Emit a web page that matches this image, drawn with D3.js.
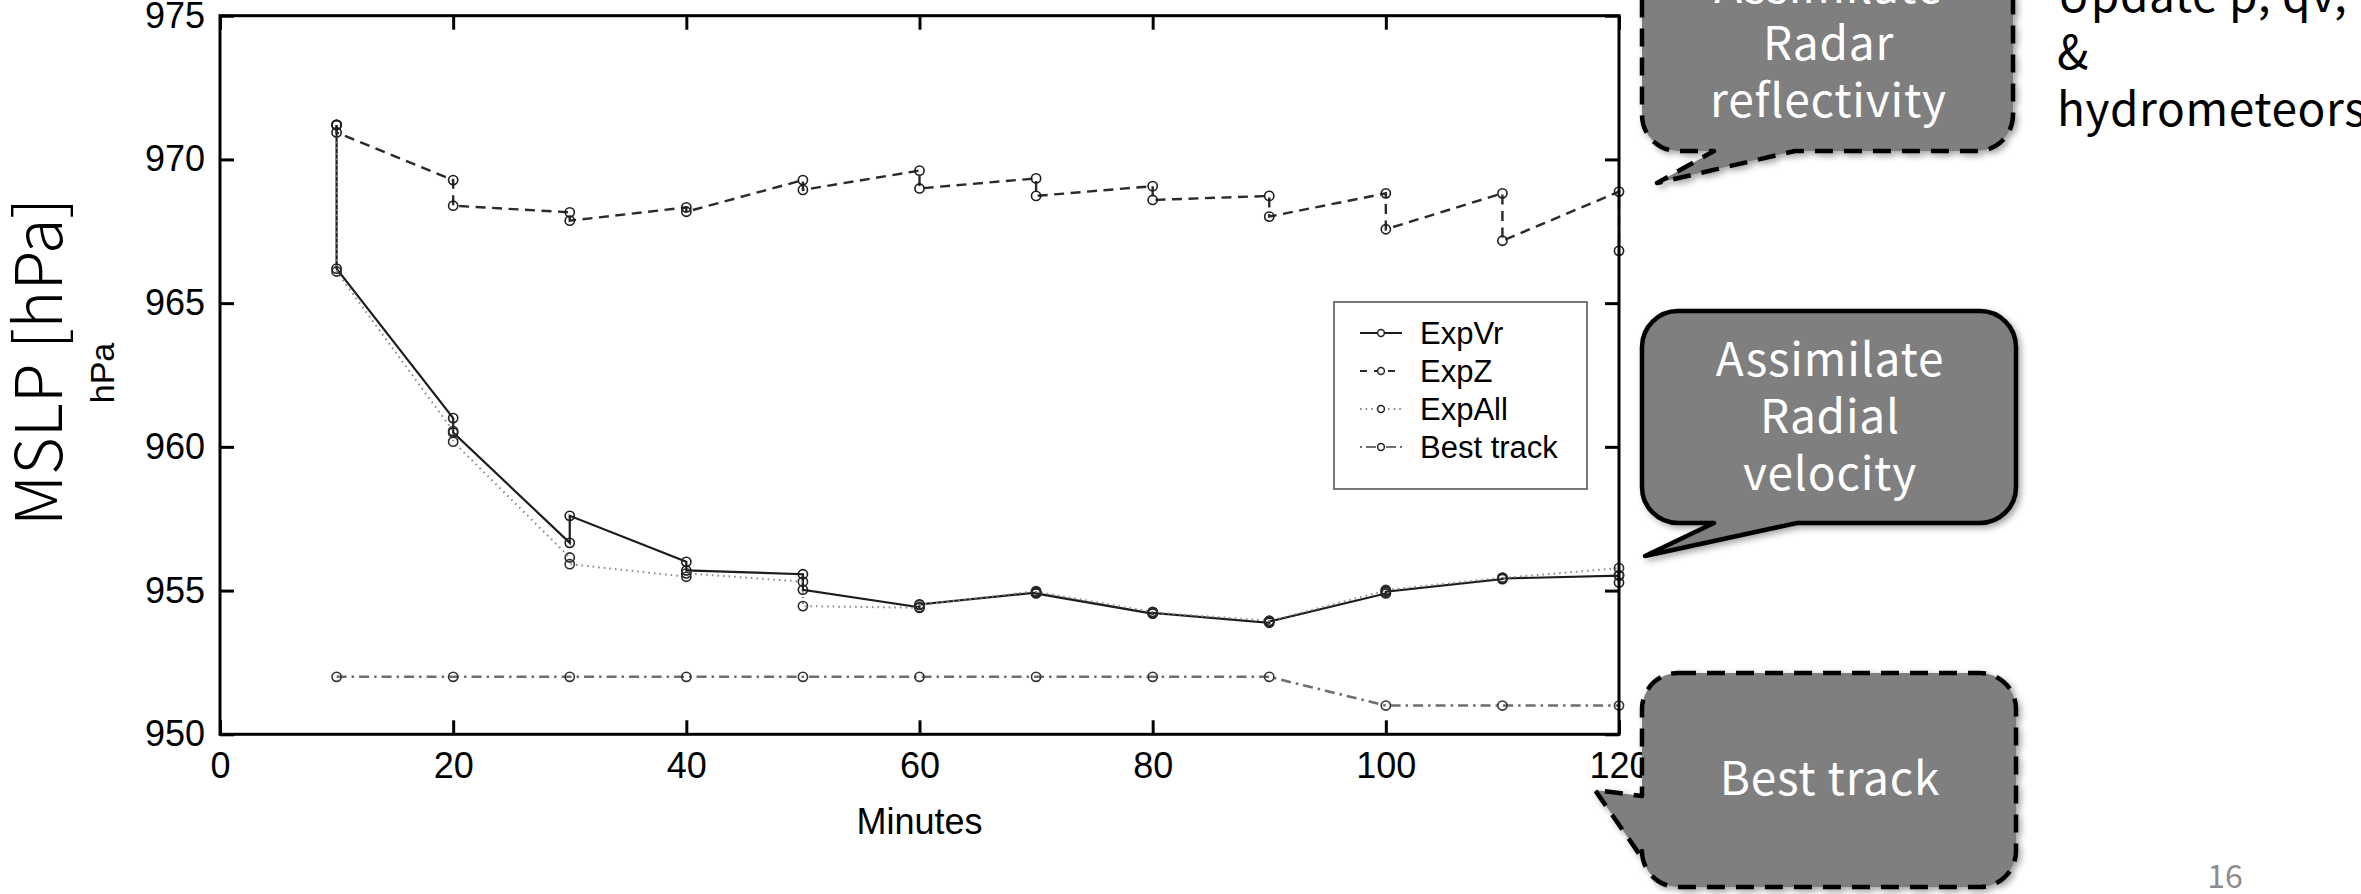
<!DOCTYPE html>
<html>
<head>
<meta charset="utf-8">
<script src="https://d3js.org/d3.v7.min.js"></script>
<style>
  body { margin: 0; background: #fff; }
  svg { display: block; }
</style>
</head>
<body>
<div id="chart"></div>
<script>
// MSLP time series, two values per cycle: background (forecast) then analysis
const minutes = [10, 20, 30, 40, 50, 60, 70, 80, 90, 100, 110, 120];

const expVrBg  = [971.2, 961.0, 956.66, 956.0, 955.57, 954.42, 954.93, 954.2, 953.88, 954.9, 955.4, 955.52];
const expVrAn  = [966.2, 960.5, 957.6, 955.7, 955.03, 954.52, 954.9, 954.22, 953.92, 954.96, 955.42, 955.28];

const expZBg   = [971.2, 969.28, 968.16, 968.33, 969.28, 969.61, 969.34, 969.07, 968.73, 968.82, 968.82, 968.88];
const expZAn   = [970.94, 968.39, 967.87, 968.18, 968.94, 968.99, 968.73, 968.59, 968.01, 967.57, 967.17, 966.82];

const expAllBg = [971.2, 960.55, 956.15, 955.48, 955.31, 954.4, 954.98, 954.26, 953.95, 955.0, 955.45, 955.78];
const expAllAn = [966.1, 960.18, 955.92, 955.6, 954.46, 954.5, 954.96, 954.24, 953.94, 955.02, 955.44, 955.54];

const bestTrack = [952, 952, 952, 952, 952, 952, 952, 952, 952, 951, 951, 951];

const xTicks = [0, 20, 40, 60, 80, 100, 120];
const yTicks = [950, 955, 960, 965, 970, 975];

const width = 2361;
const height = 894;
const plotLeft = 220, plotRight = 1619, plotTop = 15.7, plotBottom = 734.3;
const tickFont = "'Liberation Sans', Arial, Helvetica, sans-serif";
const jpFont = "'Noto Sans CJK JP', 'Noto Sans', sans-serif";

const svg = d3.select("#chart").append("svg")
    .attr("width", width)
    .attr("height", height);

const defs = svg.append("defs");
defs.append("filter")
    .attr("id", "shadow")
    .attr("x", "-20%").attr("y", "-20%")
    .attr("width", "140%").attr("height", "140%")
  .append("feDropShadow")
    .attr("dx", 3).attr("dy", 3)
    .attr("stdDeviation", 3)
    .attr("flood-color", "#000")
    .attr("flood-opacity", 0.35);

// scales
const x = d3.scaleLinear().domain([0, 120]).range([plotLeft, plotRight]);
const y = d3.scaleLinear().domain([950, 975]).range([plotBottom, plotTop]);

// cycling pairs -> points
const cyc = (bg, an) => minutes.flatMap((t, i) => [{ t: t, v: bg[i] }, { t: t, v: an[i] }]);
const single = vals => minutes.map((t, i) => ({ t: t, v: vals[i] }));

const series = [
    { name: "ExpVr", pts: cyc(expVrBg, expVrAn), color: "#1c1c1c", width: 2.2, dash: null, mk: "#1c1c1c" },
    { name: "ExpAll", pts: cyc(expAllBg, expAllAn), color: "#8a8a8a", width: 2, dash: "1.6,4", mk: "#2a2a2a" },
    { name: "ExpZ", pts: cyc(expZBg, expZAn), color: "#2a2a2a", width: 2.4, dash: "10,6.5", mk: "#1c1c1c" },
    { name: "Best track", pts: single(bestTrack), color: "#6e6e6e", width: 2.6, dash: "10,5,2.5,5", mk: "#333" }
];

const line = d3.line().x(d => x(d.t)).y(d => y(d.v));

// axes (ticks inside)
const xAxis = d3.axisBottom(x).tickValues(xTicks).tickSizeInner(-14).tickSizeOuter(0).tickPadding(18);
const xAxisTop = d3.axisTop(x).tickValues(xTicks).tickSizeInner(-14).tickSizeOuter(0).tickFormat("");
const yAxis = d3.axisLeft(y).tickValues(yTicks).tickSizeInner(-14).tickSizeOuter(0).tickPadding(15);
const yAxisRight = d3.axisRight(y).tickValues(yTicks).tickSizeInner(-14).tickSizeOuter(0).tickFormat("");

function styleAxis(g) {
    g.select(".domain").remove();
    g.selectAll(".tick line").attr("stroke", "#000").attr("stroke-width", 3);
    g.selectAll(".tick text")
        .attr("fill", "#000")
        .style("font-family", tickFont)
        .style("font-size", "36px");
}

svg.append("g").attr("transform", `translate(0,${plotBottom})`).call(xAxis).call(styleAxis);
svg.append("g").attr("transform", `translate(0,${plotTop})`).call(xAxisTop).call(styleAxis);
svg.append("g").attr("transform", `translate(${plotLeft},0)`).call(yAxis).call(styleAxis);
svg.append("g").attr("transform", `translate(${plotRight},0)`).call(yAxisRight).call(styleAxis);

// lines and markers
const plot = svg.append("g");
series.forEach(s => {
    plot.append("path")
        .datum(s.pts)
        .attr("fill", "none")
        .attr("stroke", s.color)
        .attr("stroke-width", s.width)
        .attr("stroke-dasharray", s.dash)
        .attr("d", line);
});
series.forEach(s => {
    plot.append("g")
        .selectAll("circle")
        .data(s.pts)
        .enter().append("circle")
        .attr("cx", d => x(d.t))
        .attr("cy", d => y(d.v))
        .attr("r", 4.6)
        .attr("fill", "none")
        .attr("stroke", s.mk)
        .attr("stroke-width", 1.6);
});

// frame
svg.append("rect")
    .attr("x", plotLeft).attr("y", plotTop)
    .attr("width", plotRight - plotLeft).attr("height", plotBottom - plotTop)
    .attr("fill", "none")
    .attr("stroke", "#000")
    .attr("stroke-width", 3);

// axis titles
svg.append("text")
    .attr("x", x(60)).attr("y", 834)
    .attr("text-anchor", "middle")
    .style("font-family", tickFont)
    .style("font-size", "36px")
    .text("Minutes");

svg.append("text")
    .attr("transform", "translate(114,373) rotate(-90)")
    .attr("text-anchor", "middle")
    .style("font-family", tickFont)
    .style("font-size", "34px")
    .text("hPa");

svg.append("text")
    .attr("transform", "translate(62,362) rotate(-90)")
    .attr("text-anchor", "middle")
    .style("font-family", jpFont)
    .style("font-weight", 300)
    .style("font-size", "65px")
    .text("MSLP [hPa]");

// legend
const lg = svg.append("g");
lg.append("rect")
    .attr("x", 1334).attr("y", 302)
    .attr("width", 253).attr("height", 187)
    .attr("fill", "#fff")
    .attr("stroke", "#555")
    .attr("stroke-width", 1.6);

const legendOrder = ["ExpVr", "ExpZ", "ExpAll", "Best track"];
const legendDash = { "ExpVr": null, "ExpZ": "7,7", "ExpAll": "1.6,4", "Best track": "2,4,10,4" };
const item = lg.selectAll(".legend-item")
    .data(legendOrder.map(n => series.find(s => s.name === n)))
    .enter().append("g")
    .attr("class", "legend-item")
    .attr("transform", (d, i) => `translate(0,${333 + i * 38})`);

item.append("line")
    .attr("x1", 1360).attr("x2", 1402)
    .attr("stroke", d => d.color)
    .attr("stroke-width", d => d.name === "ExpAll" ? 2 : 2.2)
    .attr("stroke-dasharray", d => legendDash[d.name]);
item.append("circle")
    .attr("cx", 1381).attr("r", 3.4)
    .attr("fill", "#fff")
    .attr("stroke", "#222")
    .attr("stroke-width", 1.5);
item.append("text")
    .attr("x", 1420).attr("dy", "0.36em")
    .style("font-family", tickFont)
    .style("font-size", "31px")
    .text(d => d.name);

// callouts
function calloutPath(x0, y0, x1, y1, r, tail) {
    const p = d3.path();
    p.moveTo(x0 + r, y0);
    p.lineTo(x1 - r, y0);
    p.arcTo(x1, y0, x1, y0 + r, r);
    p.lineTo(x1, y1 - r);
    p.arcTo(x1, y1, x1 - r, y1, r);
    if (tail.side === "bottom") {
        p.lineTo(tail.b2, y1);
        p.lineTo(tail.tx, tail.ty);
        p.lineTo(tail.b1, y1);
    }
    p.lineTo(x0 + r, y1);
    p.arcTo(x0, y1, x0, y1 - r, r);
    if (tail.side === "left") {
        p.lineTo(x0, tail.b2);
        p.lineTo(tail.tx, tail.ty);
        p.lineTo(x0, tail.b1);
    }
    p.lineTo(x0, y0 + r);
    p.arcTo(x0, y0, x0 + r, y0, r);
    p.closePath();
    return p.toString();
}

const callouts = [
    { box: [1642, -61, 2013, 151], tail: { side: "bottom", b1: 1714, b2: 1795, tx: 1657, ty: 183 },
      dash: "18,11", lines: ["Assimilate", "Radar", "reflectivity"], base: 3 },
    { box: [1642, 311, 2016, 523], tail: { side: "bottom", b1: 1714, b2: 1797, tx: 1645, ty: 556 },
      dash: null, lines: ["Assimilate", "Radial", "velocity"], base: 376 },
    { box: [1642, 673, 2016, 887], tail: { side: "left", b1: 796, b2: 858, tx: 1595, ty: 790 },
      dash: "18,11", lines: ["Best track"], base: 795 }
];

callouts.forEach(c => {
    const [x0, y0, x1, y1] = c.box;
    const g = svg.append("g");
    g.append("path")
        .attr("d", calloutPath(x0, y0, x1, y1, 36, c.tail))
        .attr("fill", "#7f7f7f")
        .attr("stroke", "#000")
        .attr("stroke-width", 4.5)
        .attr("stroke-linejoin", "round")
        .attr("stroke-dasharray", c.dash)
        .attr("filter", "url(#shadow)");
    const cx = (x0 + x1) / 2 + 1;
    g.append("text")
        .attr("y", c.base)
        .attr("text-anchor", "middle")
        .attr("fill", "#fff")
        .style("font-family", jpFont)
        .style("font-size", "46px")
        .style("letter-spacing", "0.8px")
      .selectAll("tspan")
        .data(c.lines)
        .enter().append("tspan")
        .attr("x", cx)
        .attr("dy", (d, i) => i === 0 ? 0 : 57)
        .text(d => d);
});

// side note
svg.append("text")
    .attr("y", 12)
    .attr("fill", "#000")
    .style("font-family", jpFont)
    .style("font-size", "46px")
    .style("letter-spacing", "0.6px")
  .selectAll("tspan")
    .data(["Update p, qv,", "&", "hydrometeors"])
    .enter().append("tspan")
    .attr("x", 2057)
    .attr("dy", (d, i) => i === 0 ? 0 : 57)
    .text(d => d);

// page number
svg.append("text")
    .attr("x", 2225).attr("y", 888)
    .attr("text-anchor", "middle")
    .attr("fill", "#8c8c8c")
    .style("font-family", jpFont)
    .style("font-size", "32px")
    .text("16");
</script>
</body>
</html>
